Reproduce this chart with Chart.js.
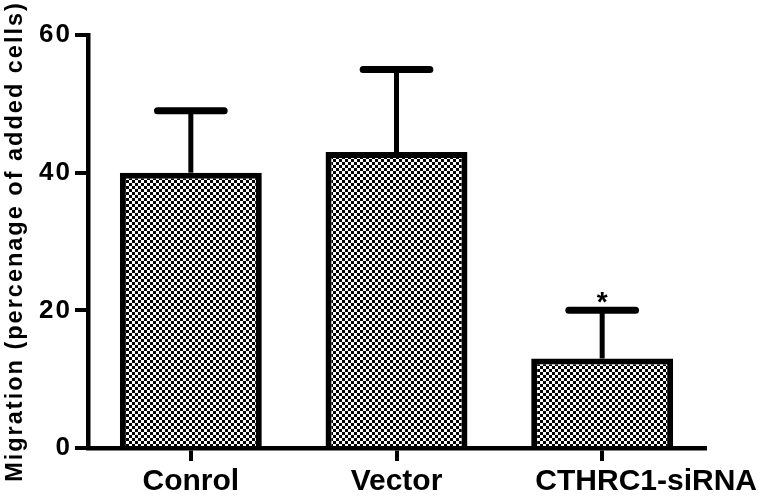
<!DOCTYPE html>
<html>
<head>
<meta charset="utf-8">
<script src="https://cdn.jsdelivr.net/npm/chart.js@4.4.1/dist/chart.umd.min.js"></script>
<style>
  html, body { margin: 0; padding: 0; background: #fff; }
  #wrap { width: 760px; height: 496px; }
</style>
</head>
<body>
<div id="wrap"><canvas id="c" width="760" height="496"></canvas></div>
<script>
const categories = ['Conrol', 'Vector', 'CTHRC1-siRNA'];
const meanValues = [40, 43, 13];
const errorValues = [9, 12, 7];
const significance = ['', '', '*'];
const yTickValues = [0, 20, 40, 60];

const FONT = "'Liberation Sans', Arial, sans-serif";
const SPACING = '2px';

function makePattern() {
  const p = document.createElement('canvas');
  p.width = 6; p.height = 6;
  const g = p.getContext('2d');
  g.fillStyle = '#fff'; g.fillRect(0, 0, 6, 6);
  g.fillStyle = '#000';
  g.fillRect(0, 0, 3, 3);
  g.fillRect(3, 3, 3, 3);
  return document.getElementById('c').getContext('2d').createPattern(p, 'repeat');
}

const spacingPlugin = {
  id: 'spacing',
  beforeLayout(chart) { chart.ctx.letterSpacing = SPACING; },
  beforeDraw(chart) { chart.ctx.letterSpacing = SPACING; }
};

const errorBarPlugin = {
  id: 'errorBars',
  afterDatasetsDraw(chart, args, opts) {
    const ctx = chart.ctx;
    const y = chart.scales.y;
    const meta = chart.getDatasetMeta(0);
    meta.data.forEach((bar, i) => {
      const x = bar.x;
      const yTop = bar.y;
      const yErr = y.getPixelForValue(meanValues[i] + errorValues[i]);
      const half = bar.width * 0.235;
      ctx.save();
      ctx.strokeStyle = '#000';
      ctx.lineWidth = 5;
      ctx.beginPath();
      ctx.moveTo(x, yTop);
      ctx.lineTo(x, yErr);
      ctx.stroke();
      ctx.lineWidth = 7;
      ctx.lineCap = 'round';
      ctx.beginPath();
      ctx.moveTo(x - half, yErr);
      ctx.lineTo(x + half, yErr);
      ctx.stroke();
      if (significance[i]) {
        ctx.fillStyle = '#000';
        ctx.font = 'bold 28px ' + FONT;
        ctx.textAlign = 'center';
        ctx.textBaseline = 'alphabetic';
        ctx.letterSpacing = '0px';
        ctx.fillText(significance[i], x, yErr + 1);
      }
      ctx.restore();
    });
  }
};

const xLabelPlugin = {
  id: 'xLabels',
  afterDraw(chart, args, opts) {
    const ctx = chart.ctx;
    const xs = chart.scales.x;
    ctx.save();
    ctx.letterSpacing = '0px';
    ctx.fillStyle = '#000';
    ctx.font = 'bold 30px ' + FONT;
    ctx.textAlign = 'center';
    ctx.textBaseline = 'alphabetic';
    categories.forEach((lab, i) => {
      const x = xs.getPixelForValue(i) + (opts.offsets[i] || 0);
      ctx.fillText(lab, x, chart.chartArea.bottom + opts.baseline);
    });
    ctx.restore();
  }
};

new Chart(document.getElementById('c'), {
  type: 'bar',
  data: {
    labels: categories,
    datasets: [{
      data: meanValues,
      backgroundColor: makePattern(),
      borderColor: '#000',
      borderWidth: 6,
      borderSkipped: 'start',
      barPercentage: 0.69,
      categoryPercentage: 1.0
    }]
  },
  options: {
    responsive: false,
    animation: false,
    devicePixelRatio: 1,
    layout: { padding: { top: 35, right: 55, left: 0, bottom: 0 } },
    plugins: {
      legend: { display: false },
      tooltip: { enabled: false },
      xLabels: { offsets: [0, 0, 44], baseline: 42 }
    },
    scales: {
      x: {
        offset: true,
        grid: { display: true, offset: false, drawOnChartArea: false, drawTicks: true, tickLength: 13, color: '#000', lineWidth: 4 },
        border: { display: true, color: '#000', width: 4.5 },
        ticks: { color: 'rgba(0,0,0,0)', font: { size: 24, weight: 'bold', family: FONT } },
        afterFit(scale) { scale.height = 48; }
      },
      y: {
        min: 0,
        max: 60,
        afterBuildTicks(scale) { scale.ticks = yTickValues.map(v => ({ value: v })); },
        ticks: { color: '#000', padding: 3, font: { size: 26, weight: 'bold', family: FONT } },
        grid: { display: true, drawOnChartArea: false, drawTicks: true, tickLength: 13, color: '#000', lineWidth: 4 },
        border: { display: true, color: '#000', width: 4.5 },
        title: {
          display: true,
          text: 'Migration (percenage of added cells)',
          color: '#000',
          padding: { top: 1, bottom: 0 },
          font: { size: 23.5, weight: 'bold', family: FONT }
        },
        afterFit(scale) { scale.width = 88; }
      }
    }
  },
  plugins: [spacingPlugin, errorBarPlugin, xLabelPlugin]
});
</script>
</body>
</html>
